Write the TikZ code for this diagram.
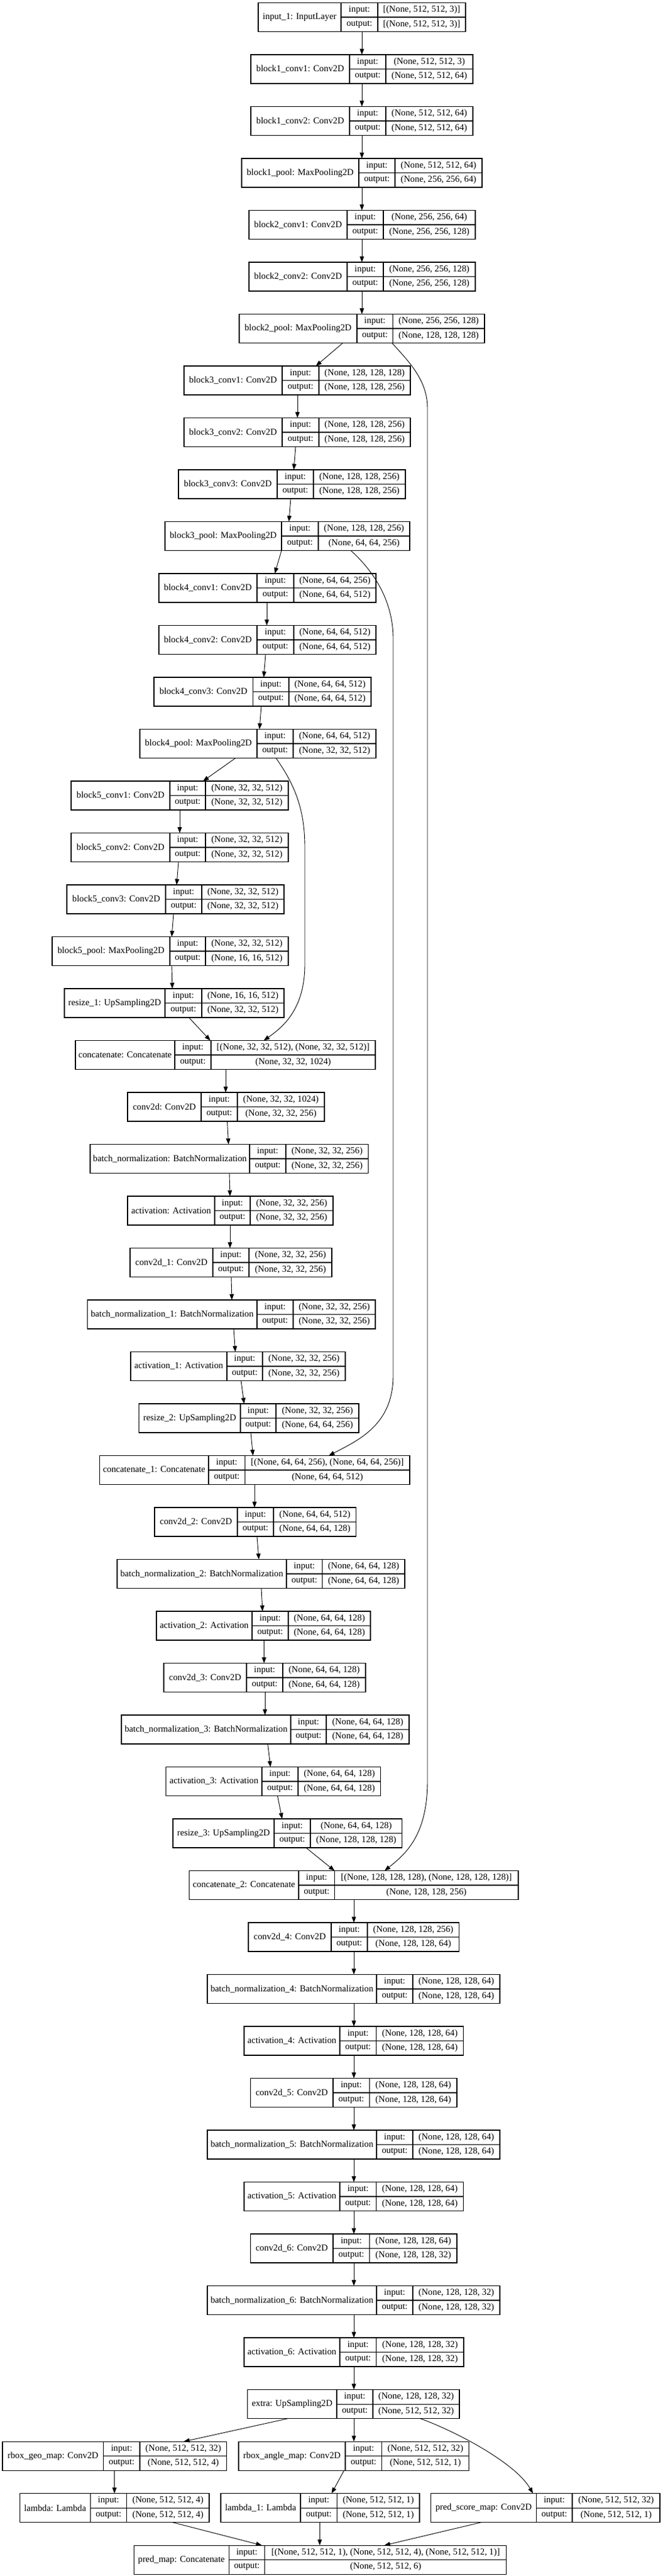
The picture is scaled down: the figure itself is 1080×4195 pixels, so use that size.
\documentclass[tikz,border=0pt]{standalone}
\usepackage{fontspec}
\setmainfont{Liberation Serif}
\usetikzlibrary{arrows.meta}

\tikzset{
  lyr/.style={draw, color=black, line width=1.1pt, inner sep=0pt, outer sep=0pt, minimum height=47pt, anchor=north west},
  cell/.style={color=black, line width=1.1pt},
  txt/.style={inner sep=0pt, font=\fontsize{14.8}{17}\selectfont},
  edge/.style={color=black, line width=0.9pt, -{Triangle[length=9.5pt,width=7pt]}}
}

% one keras layer: id, row, x0, x1, x2, x3, name, input, output
\newcommand{\layer}[9]{%
  \pgfmathsetmacro{\lyT}{4.5+84.5*(#2-1)}%
  \pgfmathsetmacro{\lyB}{\lyT+47}%
  \pgfmathsetmacro{\lyM}{\lyT+23.5}%
  \pgfmathsetmacro{\lyW}{#6-#3}%
  \node (#1) at (#3,\lyT) [lyr, minimum width=\lyW pt] {};
  \draw[cell] (#4,\lyT) -- (#4,\lyB) (#5,\lyT) -- (#5,\lyB) (#4,\lyM) -- (#6,\lyM);
  \node (#1n) at ({(#3+#4)/2},\lyM) [txt] {#7};
  \node (#1i) at ({(#4+#5)/2},{\lyT+11.75}) [txt] {input:};
  \node (#1o) at ({(#4+#5)/2},{\lyT+35.25}) [txt] {output:};
  \node (#1iv) at ({(#5+#6)/2},{\lyT+11.75}) [txt] {#8};
  \node (#1ov) at ({(#5+#6)/2},{\lyT+35.25}) [txt] {#9};
}

\begin{document}
\begin{tikzpicture}[x=1pt, y=-1pt]
\path[fill=white, use as bounding box] (0,0) rectangle (1080,4195);

% encoder
\layer{in1}{1}{421}{556}{616}{759}{input\_1: InputLayer}{[(None, 512, 512, 3)]}{[(None, 512, 512, 3)]}
\layer{b1c1}{2}{409}{570}{629}{771}{block1\_conv1: Conv2D}{(None, 512, 512, 3)}{(None, 512, 512, 64)}
\layer{b1c2}{3}{409}{570}{629}{771}{block1\_conv2: Conv2D}{(None, 512, 512, 64)}{(None, 512, 512, 64)}
\layer{b1p}{4}{394}{585}{644}{786}{block1\_pool: MaxPooling2D}{(None, 512, 512, 64)}{(None, 256, 256, 64)}
\layer{b2c1}{5}{406}{566}{625}{775}{block2\_conv1: Conv2D}{(None, 256, 256, 64)}{(None, 256, 256, 128)}
\layer{b2c2}{6}{406}{566}{625}{775}{block2\_conv2: Conv2D}{(None, 256, 256, 128)}{(None, 256, 256, 128)}
\layer{b2p}{7}{390}{582}{640.5}{790}{block2\_pool: MaxPooling2D}{(None, 256, 256, 128)}{(None, 128, 128, 128)}
\layer{b3c1}{8}{300}{460}{520}{669}{block3\_conv1: Conv2D}{(None, 128, 128, 128)}{(None, 128, 128, 256)}
\layer{b3c2}{9}{300}{460}{520}{669}{block3\_conv2: Conv2D}{(None, 128, 128, 256)}{(None, 128, 128, 256)}
\layer{b3c3}{10}{291}{452}{511}{661}{block3\_conv3: Conv2D}{(None, 128, 128, 256)}{(None, 128, 128, 256)}
\layer{b3p}{11}{269}{459}{519}{668}{block3\_pool: MaxPooling2D}{(None, 128, 128, 256)}{(None, 64, 64, 256)}
\layer{b4c1}{12}{259}{419}{479}{613}{block4\_conv1: Conv2D}{(None, 64, 64, 256)}{(None, 64, 64, 512)}
\layer{b4c2}{13}{259}{419}{479}{613}{block4\_conv2: Conv2D}{(None, 64, 64, 512)}{(None, 64, 64, 512)}
\layer{b4c3}{14}{251}{412.5}{471}{605}{block4\_conv3: Conv2D}{(None, 64, 64, 512)}{(None, 64, 64, 512)}
\layer{b4p}{15}{228}{419}{478}{613}{block4\_pool: MaxPooling2D}{(None, 64, 64, 512)}{(None, 32, 32, 512)}
\layer{b5c1}{16}{116}{277}{335}{470}{block5\_conv1: Conv2D}{(None, 32, 32, 512)}{(None, 32, 32, 512)}
\layer{b5c2}{17}{116}{277}{335}{470}{block5\_conv2: Conv2D}{(None, 32, 32, 512)}{(None, 32, 32, 512)}
\layer{b5c3}{18}{109}{270}{329}{463}{block5\_conv3: Conv2D}{(None, 32, 32, 512)}{(None, 32, 32, 512)}
\layer{b5p}{19}{85}{277}{335}{470}{block5\_pool: MaxPooling2D}{(None, 32, 32, 512)}{(None, 16, 16, 512)}

% decoder
\layer{rs1}{20}{105}{269}{329}{463}{resize\_1: UpSampling2D}{(None, 16, 16, 512)}{(None, 32, 32, 512)}
\layer{cat}{21}{123}{285}{344}{612}{concatenate: Concatenate}{[(None, 32, 32, 512), (None, 32, 32, 512)]}{(None, 32, 32, 1024)}
\layer{cv}{22}{208}{328}{387}{529}{conv2d: Conv2D}{(None, 32, 32, 1024)}{(None, 32, 32, 256)}
\layer{bn}{23}{147}{407}{466}{600.5}{batch\_normalization: BatchNormalization}{(None, 32, 32, 256)}{(None, 32, 32, 256)}
\layer{act}{24}{208}{350}{408}{543}{activation: Activation}{(None, 32, 32, 256)}{(None, 32, 32, 256)}
\layer{cv1}{25}{212}{347}{406}{541}{conv2d\_1: Conv2D}{(None, 32, 32, 256)}{(None, 32, 32, 256)}
\layer{bn1}{26}{142.5}{419}{478}{612}{batch\_normalization\_1: BatchNormalization}{(None, 32, 32, 256)}{(None, 32, 32, 256)}
\layer{act1}{27}{213}{370}{428}{563}{activation\_1: Activation}{(None, 32, 32, 256)}{(None, 32, 32, 256)}
\layer{rs2}{28}{226.6}{392}{450}{585}{resize\_2: UpSampling2D}{(None, 32, 32, 256)}{(None, 64, 64, 256)}
\layer{cat1}{29}{162.5}{340}{399.5}{668}{concatenate\_1: Concatenate}{[(None, 64, 64, 256), (None, 64, 64, 256)]}{(None, 64, 64, 512)}
\layer{cv2}{30}{252}{387}{446}{580.6}{conv2d\_2: Conv2D}{(None, 64, 64, 512)}{(None, 64, 64, 128)}
\layer{bn2}{31}{191}{467}{525.5}{660}{batch\_normalization\_2: BatchNormalization}{(None, 64, 64, 128)}{(None, 64, 64, 128)}
\layer{act2}{32}{255}{411}{470}{604}{activation\_2: Activation}{(None, 64, 64, 128)}{(None, 64, 64, 128)}
\layer{cv3}{33}{267}{402}{461}{596}{conv2d\_3: Conv2D}{(None, 64, 64, 128)}{(None, 64, 64, 128)}
\layer{bn3}{34}{198}{474}{532}{667}{batch\_normalization\_3: BatchNormalization}{(None, 64, 64, 128)}{(None, 64, 64, 128)}
\layer{act3}{35}{270.7}{427}{486}{620.5}{activation\_3: Activation}{(None, 64, 64, 128)}{(None, 64, 64, 128)}
\layer{rs3}{36}{282}{447}{506}{655.6}{resize\_3: UpSampling2D}{(None, 64, 64, 128)}{(None, 128, 128, 128)}
\layer{cat2}{37}{308.5}{487}{545.5}{845}{concatenate\_2: Concatenate}{[(None, 128, 128, 128), (None, 128, 128, 128)]}{(None, 128, 128, 256)}
\layer{cv4}{38}{405}{540}{599}{748.6}{conv2d\_4: Conv2D}{(None, 128, 128, 256)}{(None, 128, 128, 64)}
\layer{bn4}{39}{338}{614}{673}{815}{batch\_normalization\_4: BatchNormalization}{(None, 128, 128, 64)}{(None, 128, 128, 64)}
\layer{act4}{40}{398}{554}{613.6}{755.5}{activation\_4: Activation}{(None, 128, 128, 64)}{(None, 128, 128, 64)}
\layer{cv5}{41}{408.4}{543}{602.6}{745}{conv2d\_5: Conv2D}{(None, 128, 128, 64)}{(None, 128, 128, 64)}
\layer{bn5}{42}{338}{614}{673}{815}{batch\_normalization\_5: BatchNormalization}{(None, 128, 128, 64)}{(None, 128, 128, 64)}
\layer{act5}{43}{398}{554}{613.6}{755.5}{activation\_5: Activation}{(None, 128, 128, 64)}{(None, 128, 128, 64)}
\layer{cv6}{44}{408.4}{543}{602.6}{745}{conv2d\_6: Conv2D}{(None, 128, 128, 64)}{(None, 128, 128, 32)}
\layer{bn6}{45}{338}{614}{673}{815}{batch\_normalization\_6: BatchNormalization}{(None, 128, 128, 32)}{(None, 128, 128, 32)}
\layer{act6}{46}{398}{554}{613.6}{756}{activation\_6: Activation}{(None, 128, 128, 32)}{(None, 128, 128, 32)}
\layer{extra}{47}{403.6}{549}{608}{749}{extra: UpSampling2D}{(None, 128, 128, 32)}{(None, 512, 512, 32)}

% heads
\layer{geo}{48}{4}{168.7}{228}{369.8}{rbox\_geo\_map: Conv2D}{(None, 512, 512, 32)}{(None, 512, 512, 4)}
\layer{ang}{48}{389}{563}{622.6}{764.5}{rbox\_angle\_map: Conv2D}{(None, 512, 512, 32)}{(None, 512, 512, 1)}
\layer{lam}{49}{32.4}{147.4}{206.6}{341}{lambda: Lambda}{(None, 512, 512, 4)}{(None, 512, 512, 4)}
\layer{lam1}{49}{360}{490}{549.6}{684}{lambda\_1: Lambda}{(None, 512, 512, 1)}{(None, 512, 512, 1)}
\layer{score}{49}{702.5}{874.6}{933}{1076}{pred\_score\_map: Conv2D}{(None, 512, 512, 32)}{(None, 512, 512, 1)}
\layer{pred}{50}{218.3}{373.3}{431.8}{825.8}{pred\_map: Concatenate}{[(None, 512, 512, 1), (None, 512, 512, 4), (None, 512, 512, 1)]}{(None, 512, 512, 6)}

% straight connectors: from/x/to/x
\foreach \a/\xa/\b/\xb in {in1/590/b1c1/590, b1c1/590/b1c2/590, b1c2/590/b1p/590,
    b1p/590/b2c1/590, b2c1/590/b2c2/590, b2c2/590/b2p/590, b2p/559/b3c1/515,
    b3c1/485/b3c2/485, b3c2/482/b3c3/479, b3c3/474/b3p/471, b3p/459/b4c1/448,
    b4c1/435/b4c2/435, b4c2/433/b4c3/430, b4c3/426/b4p/423, b4p/384/b5c1/331,
    b5c1/293/b5c2/293, b5c2/291/b5c3/288, b5c3/283/b5p/280, b5p/280/rs1/281,
    rs1/308/cat/343, cat/368/cv/368, cv/370.5/bn/372.6, bn/374/act/375,
    act/375/cv1/375, cv1/377/bn1/378, bn1/381/act1/383.6, act1/393/rs2/398,
    rs2/409/cat1/412.5, cat1/415/cv2/415, cv2/419/bn2/422, bn2/426/act2/428,
    act2/430.5/cv3/430.5, cv3/432/bn3/432, bn3/436.6/act3/441, act3/452.5/rs3/460,
    rs3/499/cat2/545.5, cat2/577/cv4/577, cv4/577/bn4/577, bn4/577/act4/577,
    act4/577/cv5/577, cv5/577/bn5/577, bn5/577/act5/577, act5/577/cv6/577,
    cv6/577/bn6/577, bn6/577/act6/577, act6/577/extra/577,
    extra/469.7/geo/299.6, extra/577/ang/577, geo/186.6/lam/186.6,
    ang/561/lam1/540.6, lam/281/pred/427, lam1/521.3/pred/521.3, score/785/pred/626.7}
  \draw[edge] (\a.south -| \xa,0) -- (\b.north -| \xb,0);

% skip connections
\draw[edge] (b2p.south -| 639,0) .. controls (668,590) and (697,620) .. (697,665) -- (697,2900)
  .. controls (697,2990) and (660,3020) .. (cat2.north -| 627,0);
\draw[edge] (b3p.south -| 572,0) .. controls (620,940) and (641,990) .. (641,1040) -- (641,2240)
  .. controls (641,2320) and (585,2345) .. (cat1.north -| 536,0);
\draw[edge] (b4p.south -| 450,0) .. controls (482,1280) and (497,1320) .. (497,1380) -- (497,1570)
  .. controls (497,1640) and (465,1670) .. (cat.north -| 430,0);
\draw[edge] (extra.south -| 685,0) .. controls (740,3958) and (840,4010) .. (score.north -| 869,0);
\end{tikzpicture}
\end{document}
